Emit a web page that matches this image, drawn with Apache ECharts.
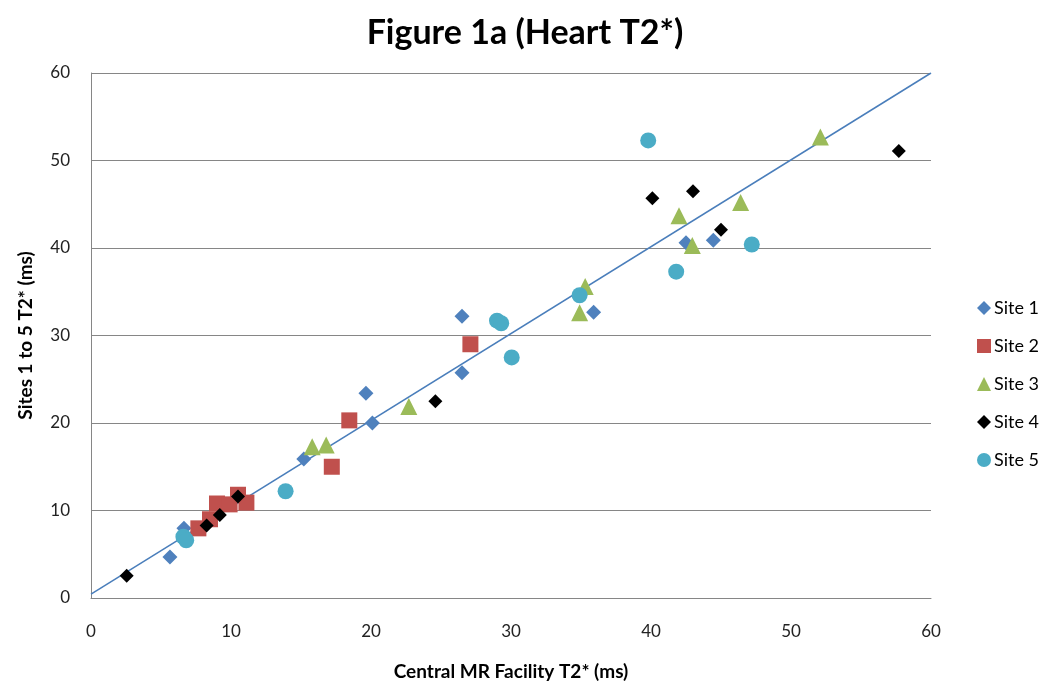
<!DOCTYPE html>
<html><head><meta charset="utf-8">
<script src="https://cdn.jsdelivr.net/npm/echarts@6/dist/echarts.min.js"></script>
<style>html,body{margin:0;padding:0;background:#fff}#c{width:1050px;height:696px}</style>
</head><body><div id="c"></div>
<script>
const site1 = [[5.64,4.7],[6.64,7.96],[15.2,15.9],[19.64,23.4],[20.1,20.0],[26.5,32.2],[26.5,25.75],[35.9,32.65],[42.5,40.6],[44.45,40.9]];
const site2 = [[7.67,7.96],[8.5,9.0],[9.0,10.8],[9.9,10.7],[10.5,11.8],[11.1,10.9],[17.2,15.0],[18.45,20.3],[27.1,29.0]];
const site3 = [[15.8,17.3],[16.8,17.5],[22.7,21.9],[34.9,32.6],[35.3,35.6],[42.0,43.7],[42.95,40.3],[46.4,45.2],[52.1,52.7]];
const site4 = [[2.55,2.55],[8.26,8.3],[9.2,9.5],[10.5,11.6],[24.6,22.5],[40.1,45.7],[43.0,46.5],[45.0,42.1],[57.7,51.1]];
const site5 = [[6.6,7.0],[6.8,6.6],[13.9,12.2],[29.0,31.7],[29.3,31.4],[30.05,27.5],[34.9,34.6],[39.8,52.3],[41.8,37.3],[47.2,40.4]];
const trend = [[0,0.45],[60,60]];
const seriesNames = ['Site 1','Site 2','Site 3','Site 4','Site 5'];
const font = 'Lato, "Open Sans", sans-serif';
const chart = echarts.init(document.getElementById('c'));
chart.setOption({
  animation:false,
  title:{text:'Figure 1a (Heart T2*)',left:520,top:11,textAlign:'center',textStyle:{fontFamily:font,fontSize:34,fontWeight:'bold',color:'#000'}},
  grid:{left:91,right:119,top:73,bottom:98},
  legend:{orient:'vertical',left:972,top:294,itemGap:20,itemWidth:14,itemHeight:14,
    data:seriesNames,textStyle:{fontFamily:font,fontSize:18,color:'#000',padding:[0,0,0,-2]}},
  xAxis:{type:'value',min:0,max:60,interval:10,
    name:'Central MR Facility T2* (ms)',nameLocation:'middle',nameGap:64,
    nameTextStyle:{fontFamily:font,fontSize:19,fontWeight:'bold',color:'#000'},
    axisLine:{show:true,lineStyle:{color:'#868686'}},axisTick:{show:false},
    axisLabel:{fontFamily:font,fontSize:17,color:'#222',margin:25},splitLine:{show:false}},
  yAxis:{type:'value',min:0,max:60,interval:10,
    name:'Sites 1 to 5 T2* (ms)',nameLocation:'middle',nameGap:56,
    nameTextStyle:{fontFamily:font,fontSize:19,fontWeight:'bold',color:'#000'},
    axisLine:{show:true,lineStyle:{color:'#868686'}},axisTick:{show:false},
    axisLabel:{fontFamily:font,fontSize:17,color:'#222',margin:21},
    splitLine:{show:true,lineStyle:{color:'#868686',width:1}}},
  series:[
    {type:'line',data:trend,symbol:'none',lineStyle:{color:'#4A7EBB',width:1.5},z:1,silent:true,legendHoverLink:false},
    {name:'Site 1',type:'scatter',data:site1,symbol:'diamond',symbolSize:15,itemStyle:{color:'#4F81BD',opacity:1},z:2},
    {name:'Site 2',type:'scatter',data:site2,symbol:'rect',symbolSize:16,itemStyle:{color:'#C0504D',opacity:1},z:2},
    {name:'Site 3',type:'scatter',data:site3,symbol:'triangle',symbolSize:17,itemStyle:{color:'#9BBB59',opacity:1},z:2},
    {name:'Site 4',type:'scatter',data:site4,symbol:'diamond',symbolSize:14,itemStyle:{color:'#000',opacity:1},z:3},
    {name:'Site 5',type:'scatter',data:site5,symbol:'circle',symbolSize:16,itemStyle:{color:'#4BACC6',opacity:1},z:2}
  ]
});
</script></body></html>
